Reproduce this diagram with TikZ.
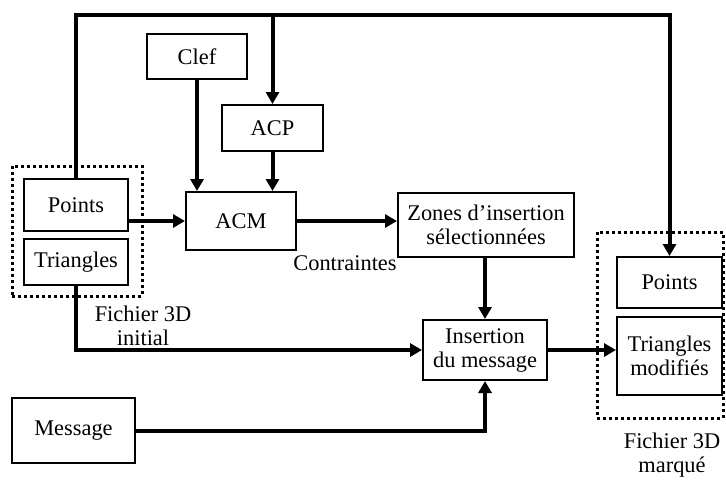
\documentclass[tikz,border=0pt]{standalone}
\usepackage{fontspec}
\setmainfont{Liberation Serif}
\usetikzlibrary{arrows.meta,positioning,calc,fit}
\tikzset{
  box/.style={draw=black, line width=1pt, fill=white, align=center, inner sep=0pt,
              font=\fontsize{11.2}{12}\selectfont},
  dotbox/.style={draw=black, line width=1.5pt, dash pattern=on 1.5pt off 1.5pt, inner sep=0pt},
  arrow/.style={-{Triangle[length=6pt,width=6.5pt]}, line width=2pt},
  wire/.style={line width=2pt},
  lbl/.style={align=center, inner sep=0pt, font=\fontsize{11.2}{12}\selectfont}
}

\begin{document}
\begin{tikzpicture}[x=0.5pt, y=-0.5pt]
\useasboundingbox (0,0) rectangle (726,479);
\node[box, minimum width=52pt, minimum height=26pt] (ptsL) at (76,205) {Points};
\node[box, minimum width=52pt, minimum height=23pt, below=3pt of ptsL] (triL) {Triangles};
\node[box, minimum width=50pt, minimum height=22.5pt] (clef) at (197,56.5) {Clef};
\node[box, minimum width=50.5pt, minimum height=23pt] (acp) at (272.5,128) {ACP};
\node[box, minimum width=55pt, minimum height=29pt] (acm) at (241,221) {ACM};
\node[box, minimum width=88pt, minimum height=32pt] (zones) at (486,225) {Zones d’insertion\\sélectionnées};
\node[box, minimum width=62pt, minimum height=30pt] (ins) at (485,350) {Insertion\\du message};
\node[box, minimum width=61.5pt, minimum height=32.5pt] (msg) at (73.5,430.5) {Message};
\node[box, minimum width=52.5pt, minimum height=25.5pt] (ptsR) at (669.5,282.5) {Points};
\node[box, minimum width=52.5pt, minimum height=39pt, below=3.5pt of ptsR] (triR) {Triangles\\modifiés};
\node[dotbox, minimum width=65pt, minimum height=65pt] (fileL) at (77,231) {};
\node[dotbox, minimum width=63pt, minimum height=93pt] (fileR) at (660,325) {};
\node[lbl] (initL) at (143,326) {Fichier 3D\\initial};
\node[lbl] (markL) at (672,455) {Fichier 3D\\marqué};
\node[lbl] (cstr) at (345,263) {Contraintes};
\coordinate (bend) at (0,15);
% boucle du haut
\draw[arrow] (ptsL.north) -- (ptsL.north |- bend) -| (ptsR.north);
\draw[arrow] (acp.north |- bend) -- (acp.north);
\draw[arrow] (clef.south) -- (clef.south |- acm.north);
\draw[arrow] (acp.south) -- (acp.south |- acm.north);
\draw[arrow] (acm.west -| ptsL.east) -- (acm.west);
\draw[arrow] (acm.east) -- (acm.east -| zones.west);
\draw[arrow] (zones.south) -- (zones.south -| ins.north) -- (ins.north);
\draw[arrow] (triL.south) |- (ins.west);
\draw[arrow] (msg.east) -| (ins.south);
\draw[arrow] (ins.east) -- (ins.east -| triR.west);
\end{tikzpicture}
\end{document}
